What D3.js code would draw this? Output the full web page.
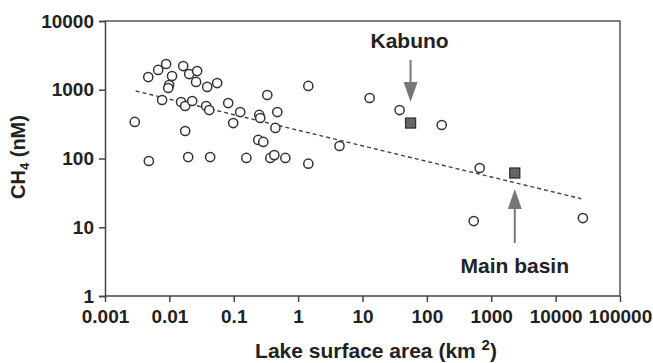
<!DOCTYPE html>
<html>
<head>
<meta charset="utf-8">
<script src="https://cdn.jsdelivr.net/npm/d3@7"></script>
<style>
  html, body { margin: 0; padding: 0; background: #fff; }
  text { font-family: "Liberation Sans", Arial, sans-serif; font-weight: bold; fill: #222; }
</style>
</head>
<body>
<svg id="chart" width="653" height="363"></svg>
<script>
// Lake surface area (km2) and CH4 (nM) for the open circles
const lakeArea = [0.0029, 0.0048, 0.0047, 0.0067, 0.0089, 0.011, 0.0099, 0.0096, 0.0077,
  0.0164, 0.0203, 0.027, 0.026, 0.0387, 0.0553, 0.0152, 0.0176, 0.0226, 0.0373, 0.0416,
  0.0176, 0.0196, 0.043, 0.082, 0.098, 0.126, 0.157, 0.249, 0.258, 0.332, 0.475, 0.443,
  0.24, 0.288, 0.37, 0.427, 0.634, 1.44, 1.44, 4.39, 12.9, 37.7, 170, 662, 534, 26500];
const ch4 = [340, 92, 1530, 1940, 2370, 1585, 1170, 1060, 710,
  2210, 1690, 1870, 1300, 1100, 1250, 663, 580, 686, 580, 507,
  251, 105, 105, 641, 328, 474, 102, 430, 388, 839, 474, 278,
  186, 174, 102, 112, 102, 1135, 84, 152, 759, 507, 307, 72.8, 12.3, 13.6];
// Lake Kivu basins (filled squares)
const basinNames = ["Kabuno", "Main basin"];
const basinArea = [55.8, 2320];
const basinCh4 = [328, 61.5];
// Regression line end points
const trendArea = [0.003, 25000];
const trendCh4 = [960, 26];
// Tick labels
const xTicks = [0.001, 0.01, 0.1, 1, 10, 100, 1000, 10000, 100000];
const xTickLabels = ["0.001", "0.01", "0.1", "1", "10", "100", "1000", "10000", "100000"];
const yTicks = [1, 10, 100, 1000, 10000];
const yTickLabels = ["1", "10", "100", "1000", "10000"];

const svg = d3.select("#chart");
const m = { left: 105, right: 33, top: 21, bottom: 67 };
const W = 653, H = 363;
const x = d3.scaleLog().domain([0.001, 100000]).range([m.left, W - m.right]);
const y = d3.scaleLog().domain([1, 10000]).range([H - m.bottom, m.top]);

// frame (top & right)
svg.append("path")
  .attr("d", `M${x(0.001)},${y(10000)}H${x(100000)}V${y(1)}`)
  .attr("fill", "none").attr("stroke", "#555").attr("stroke-width", 1.5);

// axes
const xAxis = d3.axisBottom(x).tickValues(xTicks).tickFormat((d, i) => xTickLabels[i]).tickSizeOuter(0).tickSize(6).tickPadding(7);
const yAxis = d3.axisLeft(y).tickValues(yTicks).tickFormat((d, i) => yTickLabels[i]).tickSizeOuter(0).tickSize(6).tickPadding(5);
const gx = svg.append("g").attr("transform", `translate(0,${y(1)})`).call(xAxis);
const gy = svg.append("g").attr("transform", `translate(${x(0.001)},0)`).call(yAxis);
[gx, gy].forEach(g => {
  g.selectAll("path, line").attr("stroke", "#444").attr("stroke-width", 1.5);
  g.selectAll("text").attr("font-size", 19).attr("font-family", "Liberation Sans, Arial, sans-serif")
    .attr("font-weight", "bold").attr("fill", "#222");
});
gx.selectAll("text").attr("dy", "0.75em");
gx.select(".domain").attr("d", `M${x(0.001)},0H${x(100000)}`);

// trend line
svg.append("line")
  .attr("x1", x(trendArea[0])).attr("y1", y(trendCh4[0]))
  .attr("x2", x(trendArea[1])).attr("y2", y(trendCh4[1]))
  .attr("stroke", "#444").attr("stroke-width", 1.4).attr("stroke-dasharray", "4,3");

// circles
svg.append("g").selectAll("circle").data(lakeArea).join("circle")
  .attr("cx", d => x(d)).attr("cy", (d, i) => y(ch4[i])).attr("r", 4.6)
  .attr("fill", "#fff").attr("stroke", "#333").attr("stroke-width", 1.5);

// squares
const sq = 10;
svg.append("g").selectAll("rect").data(basinArea).join("rect")
  .attr("x", d => x(d) - sq / 2).attr("y", (d, i) => y(basinCh4[i]) - sq / 2)
  .attr("width", sq).attr("height", sq)
  .attr("fill", "#666").attr("stroke", "#333").attr("stroke-width", 1.3);

// annotations
const arrowCol = "#777";
// Kabuno (arrow pointing down)
const kx = x(basinArea[0]);
const ky = y(basinCh4[0]);
svg.append("line").attr("x1", kx).attr("x2", kx).attr("y1", ky - 63).attr("y2", ky - 35)
  .attr("stroke", arrowCol).attr("stroke-width", 2);
svg.append("path").attr("d", `M${kx - 7},${ky - 41}L${kx + 7},${ky - 41}L${kx},${ky - 21}Z`).attr("fill", arrowCol);
svg.append("text").attr("x", kx - 1).attr("y", ky - 75).attr("text-anchor", "middle")
  .attr("font-size", 21).text(basinNames[0]);
// Main basin (arrow pointing up)
const mx = x(basinArea[1]);
const my = y(basinCh4[1]);
svg.append("line").attr("x1", mx).attr("x2", mx).attr("y1", my + 30).attr("y2", my + 70)
  .attr("stroke", arrowCol).attr("stroke-width", 2);
svg.append("path").attr("d", `M${mx - 7},${my + 36}L${mx + 7},${my + 36}L${mx},${my + 16}Z`).attr("fill", arrowCol);
svg.append("text").attr("x", mx).attr("y", my + 100).attr("text-anchor", "middle")
  .attr("font-size", 21).text(basinNames[1]);

// axis titles
const xt = svg.append("text").attr("x", 376).attr("y", 358).attr("text-anchor", "middle").attr("font-size", 21);
xt.append("tspan").text("Lake surface area (km ");
xt.append("tspan").attr("font-size", 15).attr("dy", -8).text("2");
xt.append("tspan").attr("dy", 8).text(")");

const yt = svg.append("text").attr("transform", "translate(25,157) rotate(-90)").attr("text-anchor", "middle").attr("font-size", 20);
yt.append("tspan").text("CH");
yt.append("tspan").attr("font-size", 13).attr("dy", 4).text("4");
yt.append("tspan").attr("dy", -4).text(" (nM)");
</script>
</body>
</html>
